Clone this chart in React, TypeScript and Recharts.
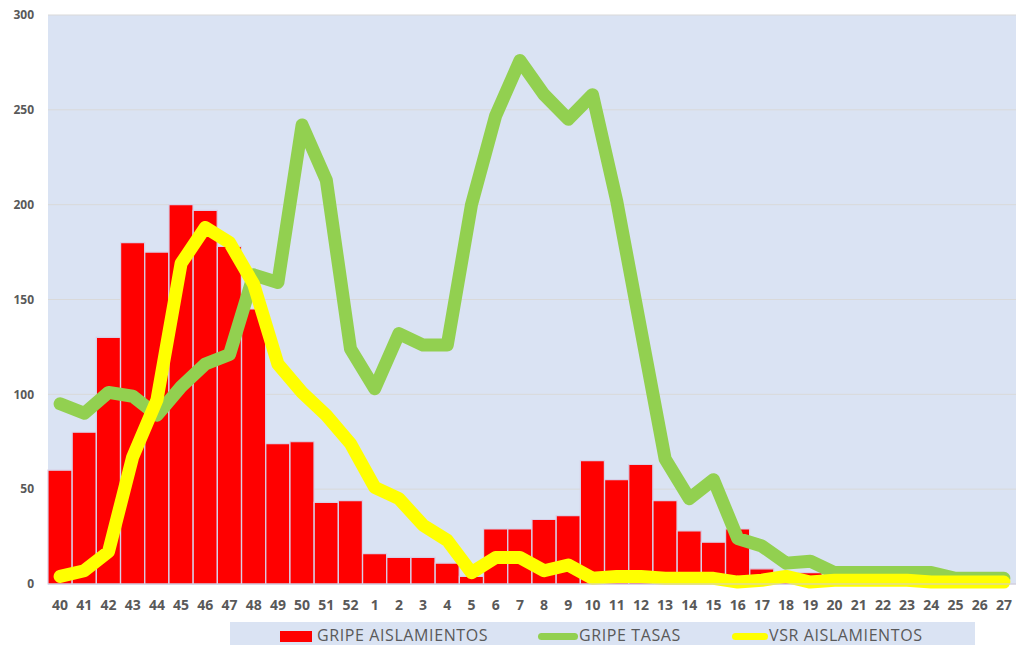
import React from 'react';
import { ComposedChart, Bar, Line, XAxis, YAxis, CartesianGrid, Legend } from 'recharts';

const weeks = ['40','41','42','43','44','45','46','47','48','49','50','51','52','1','2','3','4','5','6','7','8','9','10','11','12','13','14','15','16','17','18','19','20','21','22','23','24','25','26','27'];
const gripeAislamientos = [60,80,130,180,175,200,197,178,145,74,75,43,44,16,14,14,11,4,29,29,34,36,65,55,63,44,28,22,29,8,3,6,1,1,1,0,0,0,0,0];
const gripeTasas = [95,90,101,99,89,104,116,121,163,159,242,213,124,103,132,126,126,200,247,276,258,245,258,202,134,66,45,55,24,20,11,12,6,6,6,6,6,3,3,3];
const vsrAislamientos = [4,7,17,67,97,169,188,180,158,116,101,89,74,51,45,31,23,6,14,14,7,10,3,4,4,3,3,3,1,2,4,1,2,2,2,2,1,1,1,1];
const yTicks = [0,50,100,150,200,250,300];

const data = weeks.map((w, i) => ({
  week: w,
  ga: gripeAislamientos[i],
  gt: gripeTasas[i],
  vsr: vsrAislamientos[i],
}));

const FONT = '"Open Sans", "DejaVu Sans", sans-serif';

const textStyle: React.CSSProperties = { position: 'absolute', top: 5, lineHeight: '16px', whiteSpace: 'nowrap', letterSpacing: 0.6 };

const LegendBox = () => (
  <div style={{ position: 'relative', width: 745, height: 23, background: '#DAE3F3', fontFamily: FONT, fontSize: 16, color: '#595959' }}>
    <div style={{ position: 'absolute', left: 50, top: 9, width: 32, height: 11, background: '#FF0000' }} />
    <div style={{ ...textStyle, left: 87 }}>GRIPE AISLAMIENTOS</div>
    <div style={{ position: 'absolute', left: 308, top: 11, width: 40, height: 7, borderRadius: 3.5, background: '#92D050' }} />
    <div style={{ ...textStyle, left: 349 }}>GRIPE TASAS</div>
    <div style={{ position: 'absolute', left: 502, top: 11, width: 36, height: 7, borderRadius: 3.5, background: '#FFFF00' }} />
    <div style={{ ...textStyle, left: 539 }}>VSR AISLAMIENTOS</div>
  </div>
);

export default function App() {
  return (
    <div style={{ position: 'absolute', left: 0, top: 0, width: 1016, height: 645, background: '#FFFFFF', overflow: 'hidden' }}>
      <ComposedChart
        width={1016}
        height={645}
        data={data}
        margin={{ top: 15, right: 0, left: 0, bottom: 0 }}
        barCategoryGap={0}
        barGap={0}
      >
        <CartesianGrid horizontal vertical={false} stroke="#D9D9D9" fill="#DAE3F3" fillOpacity={1} />
        <XAxis
          dataKey="week"
          interval={0}
          height={38}
          tickLine={false}
          axisLine={{ stroke: '#D0CCE0' }}
          tickMargin={10}
          tick={{ fill: '#595959', fontSize: 14, fontWeight: 700, fontFamily: FONT }}
        />
        <YAxis
          domain={[0, 300]}
          ticks={yTicks}
          width={48}
          tickLine={false}
          axisLine={false}
          tickMargin={8}
          tick={{ fill: '#595959', fontSize: 12, fontWeight: 700, fontFamily: FONT }}
        />
        <Legend
          verticalAlign="bottom"
          content={<LegendBox />}
          wrapperStyle={{ left: 230, top: 622, width: 745, height: 23 }}
        />
        <Bar dataKey="ga" name="GRIPE AISLAMIENTOS" fill="#FF0000" stroke="#D8CFE6" strokeWidth={1.2} isAnimationActive={false} />
        <Line dataKey="gt" name="GRIPE TASAS" type="linear" stroke="#92D050" strokeWidth={13} strokeLinejoin="round" strokeLinecap="round" dot={false} activeDot={false} isAnimationActive={false} />
        <Line dataKey="vsr" name="VSR AISLAMIENTOS" type="linear" stroke="#FFFF00" strokeWidth={13} strokeLinejoin="round" strokeLinecap="round" dot={false} activeDot={false} isAnimationActive={false} />
      </ComposedChart>
    </div>
  );
}
